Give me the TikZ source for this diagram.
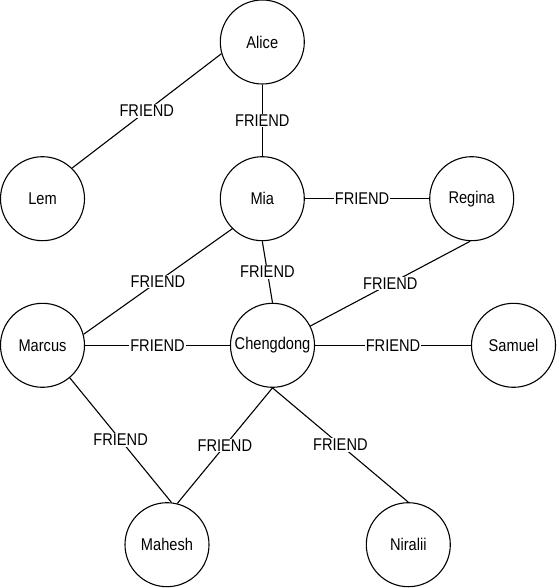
\documentclass[tikz,border=0pt]{standalone}
\usepackage{fontspec}
\setmainfont{Liberation Sans}[FakeStretch=0.86]
\begin{document}
\begin{tikzpicture}[x=1pt,y=-1pt,
  person/.style={circle,draw,line width=1.1pt,minimum size=84pt,inner sep=0pt,font=\fontsize{17}{20}\selectfont},
  rel/.style={line width=1.1pt},
  lbl/.style={fill=white,inner sep=1pt,font=\fontsize{17}{20}\selectfont}]
\useasboundingbox (0,0) rectangle (556,588);
\node[person] (alice) at (262.3,42) {Alice};
\node[person] (lem) at (42.5,198.7) {Lem};
\node[person] (mia) at (262.3,198.7) {Mia};
\node[person] (regina) at (471.7,198.7) {Regina};
\node[person] (marcus) at (42.5,345.3) {Marcus};
\node[person] (cheng) at (272.5,345.3) {Chengdong};
\node[person] (samuel) at (513.5,345.3) {Samuel};
\node[person] (mahesh) at (167,544.7) {Mahesh};
\node[person] (niralii) at (408.3,544.7) {Niralii};
\draw[rel] (alice.196) -- node[lbl] {FRIEND} (lem.46);
\draw[rel] (alice.south) -- node[lbl] {FRIEND} (mia.north);
\draw[rel] (mia.east) -- node[lbl,pos=0.46] {FRIEND} (regina.west);
\draw[rel] (mia.225) -- node[lbl] {FRIEND} (marcus.15);
\draw[rel] (mia.south) -- node[lbl] {FRIEND} (cheng.north);
\draw[rel] (regina.268) -- node[lbl] {FRIEND} (cheng.27);
\draw[rel] (marcus.east) -- node[lbl] {FRIEND} (cheng.west);
\draw[rel] (cheng.east) -- node[lbl] {FRIEND} (samuel.west);
\draw[rel] (marcus.-50) -- node[lbl] {FRIEND} (mahesh.84);
\draw[rel] (cheng.south) -- node[lbl] {FRIEND} (mahesh.76);
\draw[rel] (cheng.south) -- node[lbl] {FRIEND} (niralii.north);
\end{tikzpicture}
\end{document}
